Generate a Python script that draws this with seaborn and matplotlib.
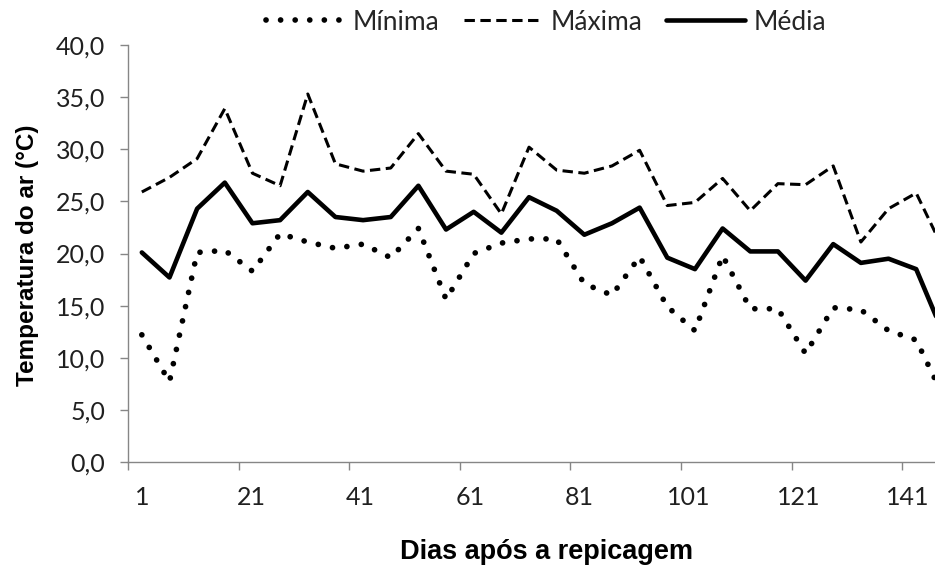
import numpy as np
import pandas as pd
import matplotlib
matplotlib.use("Agg")
import matplotlib.pyplot as plt
import matplotlib.transforms as mtransforms
import seaborn as sns
from matplotlib.ticker import FixedLocator, NullFormatter, FixedFormatter

# ---- data ----
dias = [1, 6, 11, 16, 21, 26, 31, 36, 41, 46, 51, 56, 61, 66, 71,
        76, 81, 86, 91, 96, 101, 106, 111, 116, 121, 126, 131, 136, 141, 146]
minima = [12.2, 7.7, 20.1, 20.3, 18.3, 21.9, 21.1, 20.5, 20.9, 19.6,
          22.4, 15.6, 20.0, 21.0, 21.4, 21.4, 17.1, 16.0, 19.7, 14.9,
          12.6, 19.8, 14.7, 14.7, 10.4, 14.8, 14.6, 12.6, 11.7, 6.2]
maxima = [25.9, 27.3, 29.1, 33.9, 27.7, 26.5, 35.3, 28.6, 27.9, 28.2,
          31.5, 27.9, 27.6, 23.8, 30.2, 28.0, 27.7, 28.4, 29.9, 24.6,
          24.9, 27.2, 24.1, 26.7, 26.6, 28.4, 21.1, 24.3, 25.8, 20.3]
media = [20.1, 17.7, 24.3, 26.8, 22.9, 23.2, 25.9, 23.5, 23.2, 23.5,
         26.5, 22.3, 24.0, 22.0, 25.4, 24.1, 21.8, 22.9, 24.4, 19.6,
         18.5, 22.4, 20.2, 20.2, 17.4, 20.9, 19.1, 19.5, 18.5, 12.2]
series_names = ["Mínima", "Máxima", "Média"]
x_tick_labels = ["1", "21", "41", "61", "81", "101", "121", "141"]
y_ticks = [0, 5, 10, 15, 20, 25, 30, 35, 40]

df = pd.DataFrame({
    "dia": dias * 3,
    "temp": minima + maxima + media,
    "serie": [series_names[0]] * len(dias) + [series_names[1]] * len(dias)
             + [series_names[2]] * len(dias),
})

sns.set_theme(style="white")
plt.rcParams["font.family"] = ["Lato", "DejaVu Sans"]

fig = plt.figure(figsize=(9.35, 5.65), dpi=100)
ax = fig.add_axes([128 / 935, 1 - 462 / 565, 1 - 128 / 935, (462 - 45) / 565])

styles = {
    "Mínima": dict(linestyle=(0, (0.01, 2.55)), linewidth=4.1,
                   dash_capstyle="round"),
    "Máxima": dict(linestyle=(0, (3.4, 1.8)), linewidth=2.2,
                   dash_capstyle="butt"),
    "Média": dict(linestyle="-", linewidth=3.3),
}
for name in series_names:
    sns.lineplot(data=df[df["serie"] == name], x="dia", y="temp",
                 color="black", label=name, ax=ax, **styles[name])

ax.set_xlim(-1.5, 144.4)
ax.set_ylim(0, 40)

grey = "#868686"
for side in ["top", "right"]:
    ax.spines[side].set_visible(False)
for side in ["left", "bottom"]:
    ax.spines[side].set_color(grey)
    ax.spines[side].set_linewidth(1.0)

# y axis
ax.yaxis.set_major_locator(FixedLocator(y_ticks))
ax.set_yticklabels([f"{v:.1f}".replace(".", ",") for v in y_ticks])
ax.tick_params(axis="y", which="major", direction="out", length=5.5,
               width=1.0, color=grey, pad=11, labelsize=18,
               labelcolor="#202020", left=True)

# x axis: marks between category groups, labels at category centres
major_x = [d - 2.5 for d in dias[::4]]
ax.xaxis.set_major_locator(FixedLocator(major_x))
ax.xaxis.set_major_formatter(NullFormatter())
ax.xaxis.set_minor_locator(FixedLocator(dias[::4]))
ax.xaxis.set_minor_formatter(FixedFormatter(x_tick_labels))
ax.tick_params(axis="x", which="major", direction="out", length=5.5,
               width=1.0, color=grey, bottom=True)
ax.tick_params(axis="x", which="minor", length=0, pad=17, labelsize=18,
               labelcolor="#202020", bottom=True)

# Excel places the labels slightly left of the category centres
fig.canvas.draw()
minor_labels = ax.xaxis.get_minorticklabels()
n_lab = len(minor_labels)
for i, lab in enumerate(minor_labels):
    shift = -6.0 / 72 * i / max(n_lab - 1, 1)
    lab.set_transform(lab.get_transform()
                      + mtransforms.ScaledTranslation(shift, 0, fig.dpi_scale_trans))

ax.set_xlabel("")
ax.set_ylabel("")
fig.text(546 / 935, 1 - 552 / 565, "Dias após a repicagem",
         ha="center", va="center", fontsize=19.5, fontweight="bold",
         family=["Liberation Sans", "DejaVu Sans"], color="black")
fig.text(28 / 935, 1 - 255 / 565, "Temperatura do ar (°C)",
         ha="center", va="center", rotation=90, fontsize=17.5,
         fontweight="bold", family=["Liberation Sans", "DejaVu Sans"],
         color="black")

handles, labels = ax.get_legend_handles_labels()
if ax.get_legend() is not None:
    ax.get_legend().remove()
fig.legend(handles, labels, loc="center", bbox_to_anchor=(546 / 935, 1 - 22 / 565),
           ncol=3, frameon=False, fontsize=19, handlelength=3.0,
           handletextpad=0.3, columnspacing=0.9, borderpad=0)

fig.savefig("out.png", dpi=100)
